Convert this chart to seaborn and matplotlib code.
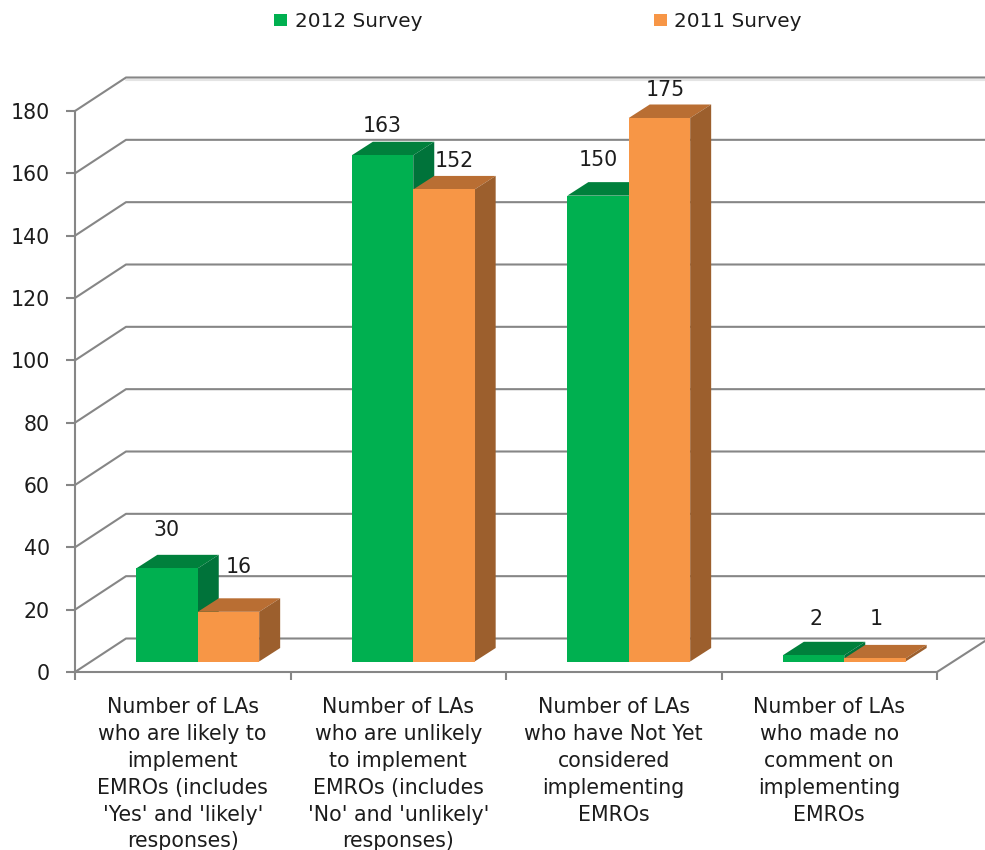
import matplotlib
matplotlib.use("Agg")
import matplotlib.pyplot as plt
from matplotlib.lines import Line2D
from matplotlib.patches import Polygon, Patch
from matplotlib.transforms import Affine2D, IdentityTransform
import pandas as pd
import seaborn as sns

categories = [
    "Number of LAs\nwho are likely to\nimplement\nEMROs (includes\n'Yes' and 'likely'\nresponses)",
    "Number of LAs\nwho are unlikely\nto implement\nEMROs (includes\n'No' and 'unlikely'\nresponses)",
    "Number of LAs\nwho have Not Yet\nconsidered\nimplementing\nEMROs",
    "Number of LAs\nwho made no\ncomment on\nimplementing\nEMROs",
]
survey_2012 = [30, 163, 150, 2]
survey_2011 = [16, 152, 175, 1]
series_names = ["2012 Survey", "2011 Survey"]
y_ticks = [0, 20, 40, 60, 80, 100, 120, 140, 160, 180]

W, H = 985, 850
GRAY = "#868686"
TEXT = "#1c1c1c"
FS = 14.8
FACE = ["#00B050", "#F79646"]
TOP = ["#00803C", "#B96E33"]
SIDE = ["#00733A", "#9C5F2D"]
# pixel offsets: bar plane, bar depth, back wall
BAR_OFF = (15, 10.5)
BAR_SCALE = 0.9965
DEPTH = (21, 13.5)
WALL = (51, 33.5)
# label nudges in pixels from the top-centre of each front face
LABEL_NUDGE = [[(0, 38), (0, 29), (0, 36), (2, 36)],
               [(10, 45), (10, 28), (6, 28), (1, 39)]]

sns.set_theme(style="white")
plt.rcParams["font.family"] = ["DejaVu Sans"]
df = pd.DataFrame({
    "category": categories * 2,
    "count": survey_2012 + survey_2011,
    "survey": [series_names[0]] * 4 + [series_names[1]] * 4,
})

fig = plt.figure(figsize=(W / 100, H / 100), dpi=100, facecolor="white")
ax = fig.add_axes([75 / W, 1 - 672 / H, (937 - 75) / W, (672 - 111) / H])
sns.barplot(data=df, x="category", y="count", hue="survey", hue_order=series_names,
            palette=FACE, width=0.57, gap=0, errorbar=None, ax=ax, legend=False,
            linewidth=0, saturation=1, zorder=5)
ax.set_xlim(-0.5, 3.5)
ax.set_ylim(0, 180)
ax.set_xlabel("")
ax.set_ylabel("")
ax.patch.set_alpha(0)

for s in ("top", "right"):
    ax.spines[s].set_visible(False)
for s in ("left", "bottom"):
    ax.spines[s].set_color(GRAY)
    ax.spines[s].set_linewidth(1.5)

ax.set_yticks(y_ticks)
ax.tick_params(axis="y", length=6.5, width=1.5, color=GRAY, pad=11.5, labelsize=FS, labelcolor=TEXT, left=True)
ax.set_xticks(range(4))
ax.set_xticklabels(categories, linespacing=1.43)
ax.tick_params(axis="x", which="major", length=0, pad=18, labelsize=FS, labelcolor=TEXT)
ax.set_xticks([-0.5, 0.5, 1.5, 2.5, 3.5], minor=True)
ax.tick_params(axis="x", which="minor", length=6, width=1.5, color=GRAY, bottom=True)

# back wall, floor and side wall grid lines
identity = IdentityTransform()
for v in y_ticks:
    x0, y0 = ax.transData.transform((-0.5, v))
    x1, y1 = x0 + WALL[0], y0 + WALL[1]
    ax.add_line(Line2D([x0, x1, W], [y0, y1, y1], color=GRAY, lw=1.5, transform=identity,
                       clip_on=False, zorder=1))
    if v == y_ticks[-1]:
        ax.add_line(Line2D([x1, W], [y1 - 2, y1 - 2], color="#E4E4E4", lw=1.5, transform=identity,
                           clip_on=False, zorder=0.9))
xr, yr = ax.transData.transform((3.5, 0))
ax.add_line(Line2D([xr, W], [yr, yr + 31], color=GRAY, lw=1.5, transform=identity, clip_on=False, zorder=1))

# extruded bars built from the seaborn rectangles
base_y = ax.transData.transform((0, 0))[1]
shift = (Affine2D().translate(0, -base_y).scale(1, BAR_SCALE)
         .translate(BAR_OFF[0], base_y + BAR_OFF[1]))
for i, container in enumerate(ax.containers):
    z = 5 + i
    for j, bar in enumerate(container):
        (xa, ya), (xb, yb) = shift.transform(ax.transData.transform(
            [(bar.get_x(), 0), (bar.get_x() + bar.get_width(), bar.get_height())]))
        bar.set_transform(ax.transData + shift)
        bar.set_clip_on(False)
        bar.set_zorder(z + 0.2)
        dx, dy = DEPTH
        ax.add_patch(Polygon([(xa, yb), (xb, yb), (xb + dx, yb + dy), (xa + dx, yb + dy)],
                             closed=True, fc=TOP[i], ec="none", transform=identity,
                             clip_on=False, zorder=z))
        ax.add_patch(Polygon([(xb, ya), (xb, yb), (xb + dx, yb + dy), (xb + dx, ya + dy)],
                             closed=True, fc=SIDE[i], ec="none", transform=identity,
                             clip_on=False, zorder=z))
        nx, ny = LABEL_NUDGE[i][j]
        ax.text((xa + xb) / 2 + nx, yb + ny, f"{bar.get_height():.0f}", transform=identity,
                ha="center", va="center", fontsize=FS, color=TEXT, clip_on=False, zorder=10)
ax.set_xlim(-0.5, 3.5)
ax.set_ylim(0, 180)

handles = [Patch(fc=FACE[0], ec="none"), Patch(fc=FACE[1], ec="none")]
fig.legend(handles, series_names, loc="center", bbox_to_anchor=(538 / W, 1 - 21.5 / H), ncol=2,
           frameon=False, fontsize=14.4, labelcolor=TEXT, handlelength=0.65, handleheight=0.55,
           handletextpad=0.4, columnspacing=11.55, borderpad=0, borderaxespad=0)

fig.savefig("out.png", dpi=100, facecolor="white")
